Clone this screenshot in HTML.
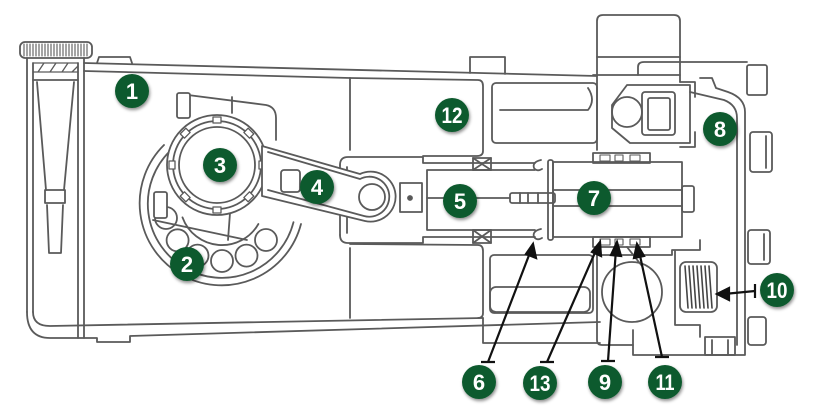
<!DOCTYPE html>
<html><head><meta charset="utf-8"><style>
html,body{margin:0;padding:0;background:#fff;}
svg{display:block;}
</style></head><body>
<svg width="815" height="417" viewBox="0 0 815 417" xmlns="http://www.w3.org/2000/svg">
<defs>
<filter id="sh" x="-40%" y="-40%" width="180%" height="180%"><feDropShadow dx="1" dy="2" stdDeviation="1.6" flood-color="#000" flood-opacity="0.45"/></filter>
</defs>
<rect width="815" height="417" fill="#fff"/>
<g fill="none" stroke="#5a5a5a" stroke-width="1.8" stroke-linejoin="round" stroke-linecap="round">
  <!-- knob -->
  <rect x="20" y="42" width="72" height="16" rx="5"/>
  <path d="M24,44V56M27,44V56M30,44V56M33,44V56M36,44V56M39,44V56M42,44V56M45,44V56M48,44V56M51,44V56M54,44V56M57,44V56M60,44V56M63,44V56M66,44V56M69,44V56M72,44V56M75,44V56M78,44V56M81,44V56M84,44V56M87,44V56" stroke-width="1.1"/>
  <!-- band / handle -->
  <path d="M27,58V312M33,63V312M78,63V338M84,58V338"/>
  <path d="M33,63H78M33,72H78M38,72L44,63M50,72L56,63M62,72L68,63M72,72L78,66" stroke-width="1.3"/>
  <path d="M33,80H78"/>
  <path d="M37,82L46,190M74,82L64,190"/>
  <rect x="45" y="190" width="20" height="13"/>
  <path d="M47,205L49,253H61L63,205"/>
  <path d="M27,312Q27,338 50,338H97V342H130V336L600,322"/>
  <path d="M33,312Q33,326 50,326L483,318"/>
  <!-- top body -->
  <path d="M84,63L597,76"/>
  <path d="M84,71L350,78"/>
  <path d="M97,63L99,57H130L132,63"/>
  <path d="M470,73V57H505V74"/>
  <!-- box 12 -->
  <path d="M350,78L478,80Q483,80 483,86V151Q483,156 477,156H423"/>
  <path d="M350,78V150"/>
  <!-- lower box -->
  <path d="M350,248V318M350,244L478,245Q483,245 483,251V313Q483,318 478,318"/>
  <path d="M483,318V343H600"/>
  <!-- channel -->
  <path d="M340,165Q340,157 348,157H423V163H535"/>
  <path d="M340,235Q340,243 348,243H423V237H535"/>
  <path d="M340,165V235M347,167V233"/>
  <path d="M427,170H535M427,230H535M427,170V230"/>
  <rect x="473" y="158" width="18" height="12"/><path d="M473,158L491,170M491,158L473,170"/>
  <rect x="473" y="230" width="18" height="13"/><path d="M473,230L491,243M491,230L473,243"/>
  <path d="M541,160Q532,162 534,168Q537,172 542,169"/>
  <path d="M541,229Q532,231 534,237Q537,241 542,238"/>
  <rect x="548" y="160" width="5" height="80" rx="2"/>
  <!-- rod 5 -->
  <path d="M427,198H510"/>
  <rect x="510" y="193" width="45" height="10" rx="2"/>
  <path d="M520,193V203M528,193V203M538,193V203"/>
  <rect x="400" y="183" width="22" height="29"/>
  <circle cx="410" cy="198" r="2" fill="#555"/>
  <!-- block 7 -->
  <rect x="553" y="162" width="129" height="75"/>
  <path d="M553,190H682M553,206H682"/>
  <rect x="682" y="186" width="12" height="26" rx="2"/>
  <rect x="593" y="153" width="57" height="10"/>
  <path d="M600,155h10v6h-10zM615,155h8v6h-8zM630,155h10v6h-10z" stroke-width="1.1"/>
  <rect x="593" y="237" width="57" height="10"/>
  <path d="M600,239h10v6h-10zM615,239h8v6h-8zM630,239h10v6h-10z" stroke-width="1.1"/>
  <path d="M627,247L642,266"/>
  <!-- upper slot -->
  <rect x="492" y="83" width="105" height="60" rx="4"/>
  <path d="M500,110H588Q596,100 588,88"/>
  <!-- lower slot -->
  <rect x="490" y="255" width="103" height="58" rx="4"/>
  <rect x="490" y="287" width="100" height="25" rx="6"/>
  <!-- right column -->
  <path d="M597,150V21Q597,15 603,15H674Q680,15 680,21V82"/>
  <path d="M597,57H680M593,75H680"/>
  <path d="M597,255V322"/>
  <path d="M638,75V67Q638,62 644,62H747"/>
  <rect x="747" y="65" width="20" height="30" rx="2"/>
  <path d="M700,78H712L716,88L728,92Q745,98 745,112V355H633V330"/>
  <path d="M690,92L724,100Q737,105 737,118V345"/>
  <!-- valve -->
  <path d="M627,85H690V143H630L612,128V105Z"/>
  <circle cx="627" cy="112" r="15"/>
  <rect x="642" y="92" width="33" height="43" rx="3"/>
  <rect x="648" y="98" width="22" height="32" rx="2"/>
  <path d="M680,82H695V97M680,147H695V132"/>
  <!-- right tabs -->
  <rect x="750" y="132" width="22" height="40" rx="3"/><path d="M766,136V168"/>
  <rect x="748" y="230" width="22" height="34" rx="3"/><path d="M764,234V260"/>
  <rect x="748" y="317" width="18" height="28" rx="3"/>
  <!-- lower right -->
  <circle cx="632" cy="292" r="30"/>
  <path d="M600,255H672V250H700V240M675,250V325H700V337"/>
  <rect x="680" y="262" width="37" height="50" rx="6"/>
  <path d="M685,266L688,308M689,266L692,308M693,266L696,308M697,266L700,308M701,266L704,308M705,266L708,308M709,266L712,308" stroke-width="1.6" stroke="#444"/>
  <rect x="705" y="337" width="30" height="18"/><path d="M712,340V355M728,340V355"/>
  <path d="M597,322V340Q597,345 602,345H633"/>
  <!-- bearing -->
  <path d="M164,145A82,82 0 1 0 301,224"/>
  <path d="M170,151A74,74 0 1 0 293.5,222.2"/>
  <path d="M182.5,217.4A42,42 0 0 0 258.4,224"/>
  <circle cx="266" cy="240" r="11"/><circle cx="246.5" cy="255.6" r="11"/><circle cx="222" cy="261" r="11"/>
  <circle cx="197.5" cy="255.6" r="11"/><circle cx="177.6" cy="240.3" r="11"/><circle cx="166" cy="218" r="11"/>
  <path d="M153,220L247,240M230,213L228,240"/>
  <rect x="154" y="192" width="13" height="26" rx="2" fill="#fff"/>
  <!-- clamp -->
  <path d="M180,94L266,105Q276,107 276,118V140" fill="#fff"/>
  <rect x="177" y="93" width="13" height="25" rx="2" fill="#fff"/>
  <path d="M232,97V113"/>
  <!-- crank ring -->
  <circle cx="217" cy="165" r="50" fill="#fff"/>
  <circle cx="217" cy="165" r="44"/>
  <circle cx="217" cy="165" r="38"/>
  <g stroke-width="1.3">
    <rect x="259" y="161" width="6" height="8" transform="rotate(0 217 165)" fill="#fff"/>
    <rect x="259" y="161" width="6" height="8" transform="rotate(45 217 165)" fill="#fff"/>
    <rect x="259" y="161" width="6" height="8" transform="rotate(90 217 165)" fill="#fff"/>
    <rect x="259" y="161" width="6" height="8" transform="rotate(135 217 165)" fill="#fff"/>
    <rect x="259" y="161" width="6" height="8" transform="rotate(180 217 165)" fill="#fff"/>
    <rect x="259" y="161" width="6" height="8" transform="rotate(225 217 165)" fill="#fff"/>
    <rect x="259" y="161" width="6" height="8" transform="rotate(270 217 165)" fill="#fff"/>
    <rect x="259" y="161" width="6" height="8" transform="rotate(315 217 165)" fill="#fff"/>
  </g>
  <!-- link -->
  <path d="M262,146L360,174A25,25 0 1 1 365,221L262,196Z" fill="#fff"/>
  <path d="M268,152L360,179A20,20 0 1 1 364,216L268,190"/>
  <circle cx="372" cy="197" r="13" fill="#fff"/>
  <rect x="281" y="170" width="19" height="22" rx="3" fill="#fff"/>
</g>
<!-- leaders -->
<g stroke="#111" stroke-width="2.2" fill="#111" stroke-linecap="butt">
  <path d="M488,362L531,250M481,362H495" fill="none"/>
  <polygon points="533,244 536,258 526,254"/>
  <path d="M547,362L597,248M540,362H554" fill="none"/>
  <polygon points="600,242 601,256 592,252"/>
  <path d="M608,361L616,249M601,361H615" fill="none"/>
  <polygon points="617,242 621,256 611,255"/>
  <path d="M662,357L639,251M655,357H669" fill="none"/>
  <polygon points="637,244 644,256 634,258"/>
  <path d="M755,291L724,294M755,284V298" fill="none"/>
  <polygon points="717,294 729,288 729,300"/>
</g>
<!-- badges -->
<g font-family="'Liberation Sans', sans-serif" font-weight="bold" font-size="22" fill="#fff" text-anchor="middle">
  <g filter="url(#sh)" fill="#0d5a2e">
    <circle cx="132" cy="91" r="17"/>
    <circle cx="452" cy="115" r="17"/>
    <circle cx="720" cy="129" r="17"/>
    <circle cx="220" cy="165" r="17"/>
    <circle cx="317" cy="187" r="17"/>
    <circle cx="460" cy="201" r="17"/>
    <circle cx="594" cy="198" r="17"/>
    <circle cx="187" cy="264" r="17"/>
    <circle cx="777" cy="290" r="17"/>
    <circle cx="479" cy="382" r="17"/>
    <circle cx="540" cy="383" r="17"/>
    <circle cx="605" cy="382" r="17"/>
    <circle cx="665" cy="382" r="17"/>
  </g>
  <text x="132" y="99">1</text>
  <text x="452" y="123" textLength="21" lengthAdjust="spacingAndGlyphs">12</text>
  <text x="720" y="137">8</text>
  <text x="220" y="173">3</text>
  <text x="317" y="195">4</text>
  <text x="460" y="209">5</text>
  <text x="594" y="206">7</text>
  <text x="187" y="272">2</text>
  <text x="777" y="298" textLength="21" lengthAdjust="spacingAndGlyphs">10</text>
  <text x="479" y="390">6</text>
  <text x="540" y="391" textLength="21" lengthAdjust="spacingAndGlyphs">13</text>
  <text x="605" y="390">9</text>
  <text x="665" y="390" textLength="19" lengthAdjust="spacingAndGlyphs">11</text>
</g>
</svg>
</body></html>
